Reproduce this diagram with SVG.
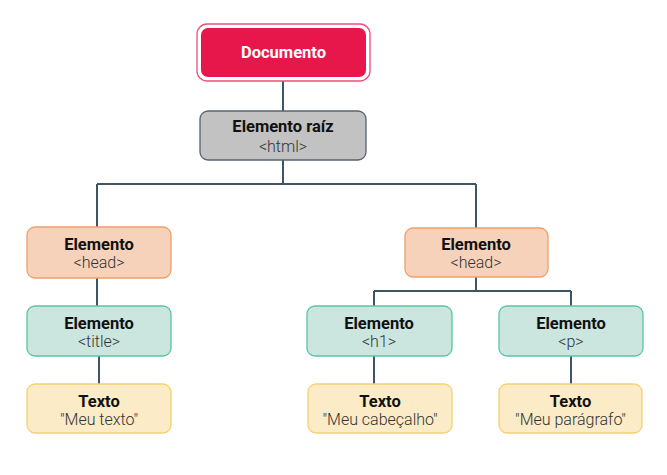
<svg xmlns="http://www.w3.org/2000/svg" width="667" height="475" viewBox="0 0 667 475">
<style>
.t{font-family:Roboto,"Liberation Sans",sans-serif;font-size:16.5px;font-weight:bold;fill:#111;text-anchor:middle}
.s{font-family:Roboto,"Liberation Sans",sans-serif;font-size:16px;font-weight:300;fill:#333;text-anchor:middle}
.gray{fill:#C2C2C2;stroke:#55646E;stroke-width:1.3}
.org{fill:#F7D2BA;stroke:#EF9E6A;stroke-width:1.3}
.grn{fill:#CBE6DE;stroke:#58C6A4;stroke-width:1.3}
.yel{fill:#FBEBC6;stroke:#F3D26E;stroke-width:1.3}
.ln{fill:none;stroke:#3E5567;stroke-width:2}
</style>
<rect width="667" height="475" fill="#fff"/>
<g id="connectors">
<path class="ln" d="M283 81V111M283 160V184M97 184H476M97 184V227M476 184V228M97 278V306M476 277V291M374 291H571M374 291V306M571 291V306M99 356V384M374 356V384M571 356V384"/>
</g>
<g id="documento">
<rect x="197" y="24" width="173" height="57" rx="10" fill="#fff" stroke="#F04E7A" stroke-width="1.3"/>
<rect x="201" y="28" width="165" height="49" rx="7" fill="#E8174B"/>
<text x="283.5" y="58" class="t" style="fill:#fff">Documento</text>
</g>
<g id="raiz">
<rect x="200" y="111" width="166" height="49" rx="8" class="gray"/>
<text x="283" y="132" class="t">Elemento raíz</text>
<text x="283" y="151.5" class="s">&lt;html&gt;</text>
</g>
<g id="head-left">
<rect x="27" y="227" width="144" height="51" rx="8" class="org"/>
<text x="99" y="250" class="t">Elemento</text>
<text x="99" y="268" class="s">&lt;head&gt;</text>
</g>
<g id="title">
<rect x="27" y="306" width="144" height="50" rx="8" class="grn"/>
<text x="99" y="329" class="t">Elemento</text>
<text x="99" y="347" class="s">&lt;title&gt;</text>
</g>
<g id="texto1">
<rect x="27" y="384" width="144" height="49" rx="8" class="yel"/>
<text x="99" y="407" class="t">Texto</text>
<text x="99" y="425" class="s">"Meu texto"</text>
</g>
<g id="head-right">
<rect x="405" y="228" width="143" height="49" rx="8" class="org"/>
<text x="476" y="250" class="t">Elemento</text>
<text x="476" y="268" class="s">&lt;head&gt;</text>
</g>
<g id="h1">
<rect x="307" y="306" width="145" height="50" rx="8" class="grn"/>
<text x="379" y="329" class="t">Elemento</text>
<text x="379" y="347" class="s">&lt;h1&gt;</text>
</g>
<g id="p">
<rect x="499" y="306" width="144" height="50" rx="8" class="grn"/>
<text x="571" y="329" class="t">Elemento</text>
<text x="571" y="347" class="s">&lt;p&gt;</text>
</g>
<g id="texto2">
<rect x="308" y="384" width="144" height="49" rx="8" class="yel"/>
<text x="380" y="407" class="t">Texto</text>
<text x="380" y="425" class="s">"Meu cabeçalho"</text>
</g>
<g id="texto3">
<rect x="499" y="384" width="143" height="49" rx="8" class="yel"/>
<text x="570.5" y="407" class="t">Texto</text>
<text x="570.5" y="425" class="s">"Meu parágrafo"</text>
</g>
</svg>
